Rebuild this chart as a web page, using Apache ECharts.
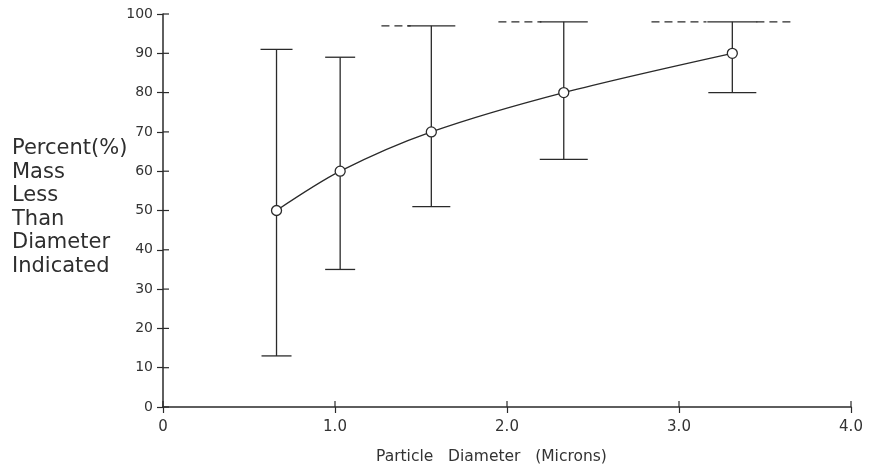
<!DOCTYPE html>
<html><head><meta charset="utf-8">
<script src="https://cdn.jsdelivr.net/npm/echarts@6/dist/echarts.min.js"></script>
<style>html,body{margin:0;padding:0;background:#fff}#c{width:869px;height:466px}</style>
</head><body><div id="c"></div>
<script>
const diameters = [0.66, 1.03, 1.56, 2.33, 3.31];
const percentMass = [50, 60, 70, 80, 90];
const lowValues = [13, 35, 51, 63, 80];
const highValues = [91, 89, 97, 98, 98];
// dashed upper-limit segments: [xStart, xEnd, y]
const dashedSegments = [[1.27, 1.44, 97], [1.95, 2.20, 98], [2.84, 3.16, 98], [3.45, 3.67, 98]];
const xTicks = [0, 1, 2, 3, 4];
const yTicks = [0, 10, 20, 30, 40, 50, 60, 70, 80, 90, 100];
const yTitle = ['Percent(%)', 'Mass', 'Less', 'Than', 'Diameter', 'Indicated'];
const xTitle = 'Particle   Diameter   (Microns)';

const topHalf = [16, 15, 24, 24, 25];
const botHalf = [15, 15, 19, 24, 24];
const ink = '#2a2a2a';
const font = 'DejaVu Sans';

const chart = echarts.init(document.getElementById('c'));
const errData = diameters.map((d, i) => [d, lowValues[i], highValues[i]]);
const tickData = yTicks.map(v => [0, v, 0]).concat(xTicks.map(v => [v, 0, 1]));
chart.setOption({
  animation: false,
  backgroundColor: '#fff',
  grid: { left: 163, right: 18, top: 14, bottom: 59 },
  title: {
    text: yTitle.join('\n'), left: 7, top: 132,
    textStyle: { fontFamily: font, fontSize: 21, fontWeight: 'normal', color: '#2e2e2e', lineHeight: 23.5 }
  },
  graphic: [{
    type: 'text', left: 376, top: 449,
    style: { text: xTitle, fontFamily: font, fontSize: 15.5, fill: '#333' }
  }],
  xAxis: {
    type: 'value', min: 0, max: 4, interval: 1,
    axisLine: { lineStyle: { color: ink, width: 1.5 } },
    axisTick: { show: true, length: 6, lineStyle: { color: ink, width: 1.2 } },
    splitLine: { show: false },
    axisLabel: { fontFamily: font, fontSize: 15, color: '#333', margin: 13,
      formatter: v => v === 0 ? '0' : v.toFixed(1) }
  },
  yAxis: {
    type: 'value', min: 0, max: 100, interval: 10,
    axisLine: { show: true, lineStyle: { color: ink, width: 1.5 } },
    axisTick: { show: true, length: 6, lineStyle: { color: ink, width: 1.2 } },
    splitLine: { show: false },
    axisLabel: { fontFamily: font, fontSize: 14, color: '#333', margin: 10 }
  },
  series: [{
    type: 'custom', silent: true,
    data: tickData,
    renderItem: (params, api) => {
      const p = api.coord([api.value(0), api.value(1)]);
      const horiz = api.value(2) === 0;
      return { type: 'line',
        shape: horiz ? { x1: p[0], y1: p[1], x2: p[0] + 6, y2: p[1] } : { x1: p[0], y1: p[1], x2: p[0], y2: p[1] - 6 },
        style: { stroke: ink, lineWidth: 1.2 } };
    }
  }, {
    type: 'custom',
    data: errData,
    renderItem: (params, api) => {
      const i = params.dataIndex;
      const x = api.value(0);
      const pHi = api.coord([x, api.value(2)]);
      const pLo = api.coord([x, api.value(1)]);
      const st = { stroke: ink, lineWidth: 1.3 };
      return { type: 'group', children: [
        { type: 'line', shape: { x1: pHi[0], y1: pHi[1], x2: pLo[0], y2: pLo[1] }, style: st },
        { type: 'line', shape: { x1: pHi[0] - topHalf[i], y1: pHi[1], x2: pHi[0] + topHalf[i], y2: pHi[1] }, style: st },
        { type: 'line', shape: { x1: pLo[0] - botHalf[i], y1: pLo[1], x2: pLo[0] + botHalf[i], y2: pLo[1] }, style: st }
      ]};
    }
  }, {
    type: 'custom',
    data: dashedSegments,
    renderItem: (params, api) => {
      const a = api.coord([api.value(0), api.value(2)]);
      const b = api.coord([api.value(1), api.value(2)]);
      return { type: 'line', shape: { x1: a[0], y1: a[1], x2: b[0], y2: b[1] },
        style: { stroke: ink, lineWidth: 1.3, lineDash: [8, 5] } };
    }
  }, {
    type: 'line',
    data: diameters.map((d, i) => [d, percentMass[i]]),
    smooth: 0.3,
    symbol: 'circle', symbolSize: 10,
    lineStyle: { color: ink, width: 1.3 },
    itemStyle: { color: '#fff', borderColor: ink, borderWidth: 1.3 },
    z: 5
  }]
});
</script></body></html>
